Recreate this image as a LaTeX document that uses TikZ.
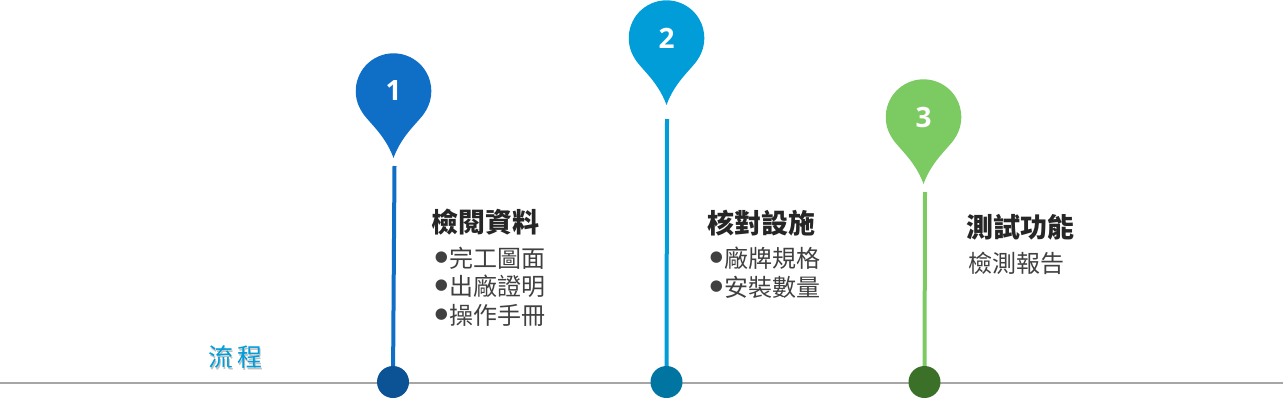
\documentclass[tikz,border=0pt]{standalone}
\usepackage{fontspec}
\setmainfont{Noto Sans CJK TC}
\newfontfamily\numfont{Open Sans}
\newfontfamily\dotfont{DejaVu Sans}
\definecolor{pinblue}{HTML}{0F6FC6}
\definecolor{pinsky}{HTML}{009DD9}
\definecolor{pingreen}{HTML}{7CCA62}
\definecolor{dotblue}{HTML}{0B5394}
\definecolor{dotsky}{HTML}{0075A2}
\definecolor{dotgreen}{HTML}{3A7028}
\begin{document}
\begin{tikzpicture}
[x=1pt,y=-1pt,
  pinnumber/.style={text=white,font=\numfont\bfseries\fontsize{28}{28}\selectfont,inner sep=0pt},
  basedot/.style={shape=circle,minimum size=32pt,inner sep=0pt},
  headtext/.style={anchor=west,inner sep=0pt,text=black!85,font=\bfseries\fontsize{27}{27}\selectfont},
  itemtext/.style={anchor=west,inner sep=0pt,text=black!75,font=\fontsize{24}{24}\selectfont},
  bullet/.style={inner sep=0pt,text=black!75,font=\dotfont\fontsize{15}{15}\selectfont},
  titletext/.style={inner sep=0pt,text=pinsky,font=\fontsize{25}{25}\selectfont}]
\useasboundingbox (0,0) rectangle (1283,407);
%% base line
\coordinate (lineleft) at (0,383);
\coordinate (lineright) at (1283,383);
\draw[black!35,line width=1.3pt] (lineleft) -- (lineright);
%% pins, stems and dots
\foreach \pinname/\x/\y/\topx/\topy/\dotx/\pincolor/\dotcolor in {
  1/393.5/91/394.5/166/393/pinblue/dotblue,
  2/666.5/38/667/119/666.5/pinsky/dotsky,
  3/923.5/117/925/192/924.5/pingreen/dotgreen} {
  \fill[\pincolor,shift={(\x,\y)}] (0,67) .. controls (-9,42) and (-27,30) .. (-32.7,19)
    arc[start angle=150,end angle=390,radius=37.8]
    .. controls (27,30) and (9,42) .. (0,67) -- cycle;
  \node (pin\pinname) at (\x,\y) [pinnumber] {\pinname};
  \node (dot\pinname) at (\dotx,382) [basedot,fill=\dotcolor] {};
  \coordinate (top\pinname) at (\topx,\topy);
  \draw[\pincolor,line width=4pt] (top\pinname) -- (dot\pinname);
}
%% headings
\foreach \headname/\x/\y/\headlabel in {a/431/222/檢閱資料, b/707/223/核對設施, c/966/227/測試功能} {
  \node (head\headname) at (\x,\y) [headtext] {\headlabel};
}
%% items
\foreach \itemname/\x/\y/\itemlabel in {a/449/258/完工圖面, b/449/286/出廠證明, c/449/315/操作手冊,
  d/724/258/廠牌規格, e/724/287/安裝數量} {
  \node (item\itemname) at (\x,\y) [itemtext] {\itemlabel};
  \node (mark\itemname) at (\x-7.5,\y) [bullet] {●};
}
\node (itemf) at (968,263) [itemtext] {檢測報告};
%% title
\node (titleshadow) at (236.5,358.5) [titletext,text=black,opacity=0.25] {流\hspace{4pt}程};
\node (title) at (235,357) [titletext] {流\hspace{4pt}程};
\end{tikzpicture}
\end{document}
